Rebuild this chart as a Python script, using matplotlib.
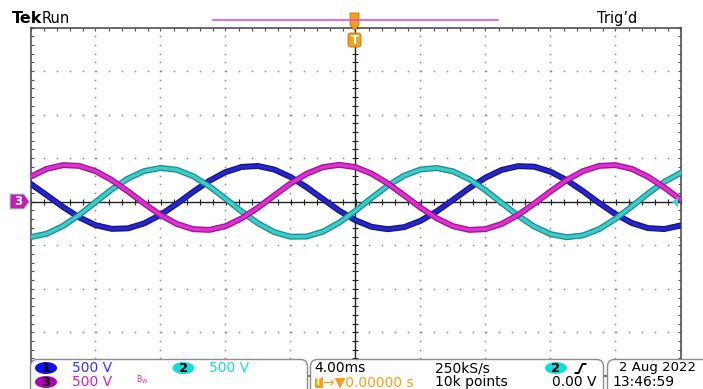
import numpy as np
import matplotlib
matplotlib.use('Agg')
import matplotlib.pyplot as plt
from matplotlib.patches import FancyBboxPatch, Ellipse, Polygon, Rectangle
from matplotlib.transforms import IdentityTransform

# time base: 4 ms/div, trigger point at 0
time_ms = np.arange(-20, 21)

# channel readings in volts (500 V/div)
ch1_v = [207, 75, -60, -180, -269, -312, -306, -249, -151, -25,
         112, 239, 340, 399, 410, 369, 284, 165, 30, -103,
         -214, -289, -316, -292, -220, -111, 21, 156, 276, 365,
         408, 402, 345, 247, 121, -16, -143, -244, -303, -314, -273]
ch2_v = [-407, -368, -279, -152, -5, 141, 266, 352, 388, 367,
         294, 177, 35, -114, -248, -349, -402, -400, -343, -240,
         -104, 45, 186, 300, 370, 387, 348, 259, 132, -15,
         -161, -286, -372, -408, -387, -314, -197, -55, 94, 228, 329]
ch3_v = [287, 377, 420, 411, 351, 249, 118, -22, -153, -255,
         -315, -324, -281, -191, -68, 72, 208, 321, 397, 423,
         397, 321, 208, 72, -68, -191, -281, -324, -315, -255,
         -153, -22, 118, 249, 351, 411, 420, 377, 287, 164, 24]

ch_names = ['1', '2', '3']
ch_scales = ['500 V', '500 V', '500 V']
horiz_scale = '4.00ms'
trig_pos = '0.00000 s'
sample_rate = '250kS/s'
record_len = '10k points'
trig_source = '2'
trig_level = '0.00 V'
date_str = '2 Aug 2022'
time_str = '13:46:59'

W, H = 703, 389
fig = plt.figure(figsize=(W / 100, H / 100), dpi=100)
fig.patch.set_facecolor('white')
PX = IdentityTransform()


def P(x, y):
    # screen pixel (from top-left) -> display coords
    return (x, H - y)


def label(x, y, s, color='black', size=10, **kw):
    fig.text(*P(x, y), s, transform=PX, color=color, fontsize=size,
             va='center', **kw)


# graticule: 10 x 8 divisions
left, right, top, bottom = 30.5, 680.5, 27.5, 375.9
ax = fig.add_axes([left / W, 1 - bottom / H, (right - left) / W, (bottom - top) / H])
ax.set_xlim(-20, 20)
ax.set_ylim(-2000, 2000)
ax.set_xticks(np.arange(-20, 21, 4))
ax.set_xticks(np.arange(-20, 20.01, 0.8), minor=True)
ax.set_yticks(np.arange(-2000, 2001, 500))
ax.set_yticks(np.arange(-2000, 2001, 100), minor=True)
ax.tick_params(which='both', direction='in', top=True, right=True,
               labelbottom=False, labelleft=False, length=2.5, width=0.8,
               color='#505050')
for sp in ax.spines.values():
    sp.set_color('#505050')
    sp.set_linewidth(1.2)

xs = np.arange(-20, 20.01, 0.8)
ys = np.arange(-2000, 2001, 100)
for yv in [-1500, -1000, -500, 500, 1000, 1500]:
    ax.plot(xs, np.full(len(xs), yv), ls='none', marker='s', ms=1.1, mew=0,
            color='#8a8a8a')
for xv in [-16, -12, -8, -4, 4, 8, 12, 16]:
    ax.plot(np.full(len(ys), xv), ys, ls='none', marker='s', ms=1.1, mew=0,
            color='#8a8a8a')

# centre cross with fine ticks
ax.axhline(0, color='#202020', lw=1.0)
ax.axvline(0, color='#202020', lw=1.0)
ax.plot(xs, np.zeros(len(xs)), ls='none', marker='|', ms=4, mew=0.8, color='#202020')
ax.plot(np.zeros(len(ys)), ys, ls='none', marker='_', ms=4, mew=0.8, color='#202020')

# waveforms
traces = [(ch1_v, '#15158a', '#2626cc'),
          (ch2_v, '#1c8e8e', '#3ccccc'),
          (ch3_v, '#9c1696', '#e030d2')]
for i, (v, outer, inner) in enumerate(traces):
    ax.plot(time_ms, v, color=outer, lw=4.3, zorder=3 + i * 0.1)
    ax.plot(time_ms, v, color=inner, lw=2.4, zorder=3.05 + i * 0.1)

# header
label(12, 18.5, 'Tek', size=11.5, weight='bold')
label(42, 18.5, 'Run', size=10.5)
label(597, 18.5, "Trig\u2019d", size=10.5)
fig.add_artist(plt.Line2D([213, 498], [H - 19.5, H - 19.5], transform=PX,
                          color='#e050d8', lw=1.2))

orange = '#f5a01a'
fig.add_artist(Polygon([P(350, 13), P(359, 13), P(359, 25), P(354.5, 30.5), P(350, 25)],
                       closed=True, transform=PX, fc=orange, ec='#c07000', lw=0.6))
fig.add_artist(FancyBboxPatch(P(348, 47), 13, 14, transform=PX,
                              boxstyle='round,pad=0,rounding_size=2.5',
                              fc=orange, ec='#c07000', lw=0.6))
label(354.5, 40, 'T', color='white', size=8.5, weight='bold', ha='center')

# channel 3 ground marker and trigger level marker
fig.add_artist(Polygon([P(10, 194), P(24, 194), P(29.5, 201.7), P(24, 209), P(10, 209)],
                       closed=True, transform=PX, fc='#c41eb0', ec='#8fe0e0', lw=0.8))
label(18, 201.7, '3', color='white', size=8.5, weight='bold', ha='center')
fig.add_artist(Polygon([P(672, 202), P(678, 197), P(678, 207)], closed=True,
                       transform=PX, fc='#30d8d8', ec='none'))

# readout panels
for x0, x1 in [(30.5, 307.5), (310.5, 603.5), (607.5, 720)]:
    fig.add_artist(FancyBboxPatch((x0, -12), x1 - x0, H - 359.5 + 12, transform=PX,
                                  boxstyle='round,pad=0,rounding_size=7',
                                  fc='white', ec='#8c8c8c', lw=1.0))

r1, r2 = 368, 382
badges = [(46, r1, '#1010f0', ch_names[0]), (183.5, r1, '#12dcdc', ch_names[1]),
          (46, r2, '#b400b4', ch_names[2]), (556, r1, '#12dcdc', trig_source)]
for bx, by, bc, bt in badges:
    fig.add_artist(Ellipse(P(bx, by), 22, 12, transform=PX, fc=bc, ec='none'))
    label(bx, by, bt, size=9.5, weight='bold', ha='center')

label(72, r1, ch_scales[0], color='#3535ff', size=10)
label(209, r1, ch_scales[1], color='#18dada', size=10)
label(72, r2, ch_scales[2], color='#d020c4', size=10)
label(136, r2 - 2, r'$\mathregular{B_W}$', color='#d020c4', size=5.5)

label(314, r1, horiz_scale, size=10)
fig.add_artist(Rectangle(P(314.5, 387.5), 8, 11, transform=PX, fc=orange, ec='none'))
label(318.5, r2, 'T', color='white', size=7, weight='bold', ha='center')
label(323, r2, '\u2192\u25bc' + trig_pos, color=orange, size=10)
label(435, r1, sample_rate, size=10)
label(435, r2, record_len, size=10)
fig.add_artist(plt.Line2D([575.5, 578.5, 582.5, 585.5], [H - 373, H - 373, H - 364, H - 364],
                          transform=PX, color='black', lw=1.4))
label(596, r2, trig_level, size=10, ha='right')
label(619, r1, date_str, size=9.5)
label(612, r2, time_str, size=10)

fig.savefig('out.png', dpi=100)
